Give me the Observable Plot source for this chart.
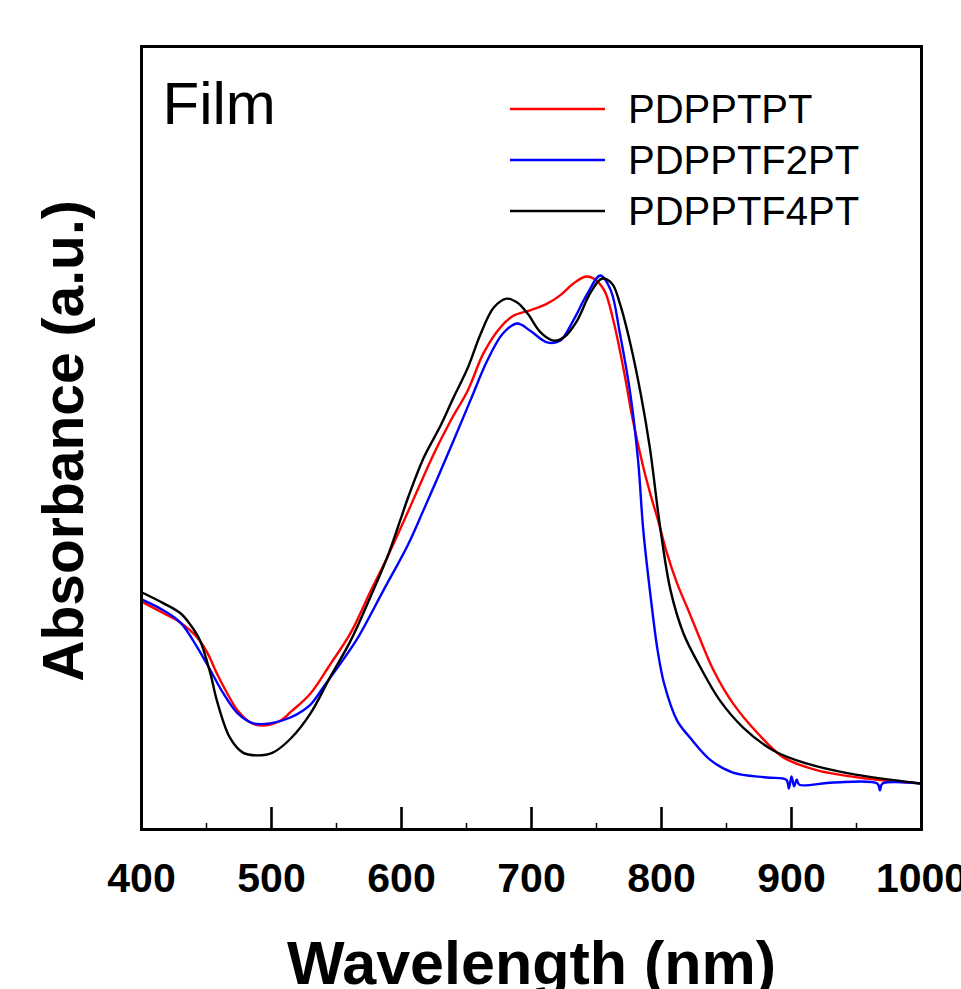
<!DOCTYPE html>
<html>
<head>
<meta charset="utf-8">
<script src="https://cdn.jsdelivr.net/npm/d3@7"></script>
<script src="https://cdn.jsdelivr.net/npm/@observablehq/plot@0.6"></script>
<style>
  html, body { margin: 0; padding: 0; background: #fff; }
  #wrap { position: relative; width: 961px; height: 989px; overflow: hidden; }
  #wrap svg { display: block; }
  #legend { position: absolute; left: 0; top: 0; pointer-events: none; }
</style>
</head>
<body>
<div id="wrap"></div>
<script>
const FONT = "'Liberation Sans', Arial, Helvetica, sans-serif";

// ---- data ----
const seriesNames = ["PDPPTPT", "PDPPTF2PT", "PDPPTF4PT"];
const seriesColors = ["#ff0000", "#0000ff", "#000000"];

const wlPDPPTPT = [400,417,430,443,451,458,466,474,484,494,507,515,530,545,561,576,589,602,612,625,638,651,663,676,686,699,712,722,732,742,748,756,763,771,778,786,792,797,804,812,820,828,840,855,874,894,920,958,1000];
const absPDPPTPT = [0.412,0.391,0.374,0.347,0.318,0.282,0.246,0.215,0.193,0.188,0.197,0.213,0.246,0.298,0.356,0.430,0.492,0.559,0.612,0.680,0.740,0.794,0.861,0.908,0.929,0.939,0.951,0.966,0.987,1.000,0.996,0.975,0.920,0.830,0.740,0.655,0.602,0.562,0.501,0.445,0.400,0.354,0.288,0.228,0.174,0.130,0.107,0.092,0.083];

const wlPDPPTF2PT = [400,417,430,443,453,463,474,486,499,515,530,540,553,566,586,605,617,628,640,653,666,678,689,699,712,722,732,743,753,761,768,776,782,786,792,797,802,812,822,838,855,881,896,898,900,902,904,906,932,966,968,970,1000];
const absPDPPTF2PT = [0.416,0.396,0.374,0.329,0.288,0.246,0.210,0.192,0.192,0.203,0.226,0.258,0.300,0.345,0.432,0.515,0.578,0.637,0.703,0.776,0.848,0.897,0.915,0.902,0.881,0.884,0.920,0.969,1.002,0.975,0.897,0.788,0.667,0.541,0.414,0.324,0.264,0.197,0.166,0.125,0.103,0.094,0.090,0.074,0.096,0.078,0.090,0.081,0.085,0.083,0.071,0.083,0.083];

const wlPDPPTF4PT = [400,417,430,438,445,453,458,468,478,489,501,515,530,545,561,576,589,599,605,617,630,640,651,661,671,681,689,697,707,717,725,735,745,754,762,768,776,784,791,799,807,817,830,845,863,886,912,945,1000];
const absPDPPTF4PT = [0.429,0.409,0.391,0.369,0.342,0.282,0.233,0.166,0.139,0.134,0.139,0.165,0.210,0.275,0.342,0.420,0.492,0.559,0.600,0.672,0.730,0.781,0.835,0.897,0.944,0.960,0.953,0.933,0.899,0.884,0.890,0.920,0.969,0.996,0.987,0.951,0.879,0.788,0.691,0.546,0.432,0.354,0.293,0.233,0.184,0.143,0.119,0.101,0.083];

const xMajorTicks = [400, 500, 600, 700, 800, 900, 1000];
const xMinorTicks = [450, 550, 650, 750, 850, 950];
const xDomain = [400, 1000];
const yDomain = [0, 1.416];
const xTitle = "Wavelength (nm)";
const yTitle = "Absorbance (a.u.)";
const panelLabel = "Film";

// ---- build tidy table ----
const wls = [wlPDPPTPT, wlPDPPTF2PT, wlPDPPTF4PT];
const absv = [absPDPPTPT, absPDPPTF2PT, absPDPPTF4PT];
const rows = [];
seriesNames.forEach((name, i) => {
  wls[i].forEach((w, j) => rows.push({series: name, wl: w, abs: absv[i][j]}));
});

const W = 961, H = 989;
const mL = 141, mR = 40, mT = 46, mB = 160;
const innerH = H - mT - mB;

const chart = Plot.plot({
  width: W,
  height: H,
  marginLeft: mL,
  marginRight: mR,
  marginTop: mT,
  marginBottom: mB,
  style: {fontFamily: FONT, background: "#fff", color: "#000"},
  x: {domain: xDomain},
  y: {domain: yDomain, axis: null},
  color: {domain: seriesNames, range: seriesColors},
  marks: [
    Plot.line(rows, {x: "wl", y: "abs", z: "series", stroke: "series", strokeWidth: 2.4, curve: "catmull-rom"}),
    Plot.tickX(xMinorTicks, {x: d => d, insetTop: innerH - 6, stroke: "#000", strokeWidth: 1.5}),
    Plot.tickX(xMajorTicks, {x: d => d, insetTop: innerH - 22, stroke: "#000", strokeWidth: 2.6}),
    Plot.frame({stroke: "#000", strokeWidth: 3}),
    Plot.axisX({ticks: xMajorTicks, tickSize: 0, tickPadding: 33, tickFormat: d => `${d}`,
      fontSize: 41, fontWeight: "bold", fontFamily: FONT, label: null}),
    Plot.text([xTitle], {frameAnchor: "bottom", dy: 154, lineAnchor: "bottom",
      fontSize: 61, fontWeight: "bold", fontFamily: FONT, fill: "#000"}),
    Plot.text([yTitle], {frameAnchor: "left", dx: -59, dy: 3, rotate: -90, lineAnchor: "bottom", textAnchor: "middle",
      fontSize: 57, fontWeight: "bold", fontFamily: FONT, fill: "#000"}),
    Plot.text([panelLabel], {frameAnchor: "top-left", dx: 21, dy: 77, lineAnchor: "bottom", textAnchor: "start",
      fontSize: 60, fontFamily: FONT, fill: "#000"})
  ]
});

const wrap = document.getElementById("wrap");
wrap.appendChild(chart);

// ---- legend overlay ----
const ns = "http://www.w3.org/2000/svg";
const leg = document.createElementNS(ns, "svg");
leg.setAttribute("id", "legend");
leg.setAttribute("width", W);
leg.setAttribute("height", H);
const legX1 = 510, legX2 = 605, legTextX = 628, legBase0 = 123, legStep = 51;
seriesNames.forEach((name, i) => {
  const base = legBase0 + i * legStep;
  const ln = document.createElementNS(ns, "line");
  ln.setAttribute("x1", legX1); ln.setAttribute("x2", legX2);
  ln.setAttribute("y1", base - 14); ln.setAttribute("y2", base - 14);
  ln.setAttribute("stroke", seriesColors[i]); ln.setAttribute("stroke-width", 2.6);
  leg.appendChild(ln);
  const t = document.createElementNS(ns, "text");
  t.setAttribute("x", legTextX); t.setAttribute("y", base);
  t.setAttribute("font-family", FONT); t.setAttribute("font-size", 40);
  t.setAttribute("fill", "#000");
  t.textContent = name;
  leg.appendChild(t);
});
wrap.appendChild(leg);
</script>
</body>
</html>
